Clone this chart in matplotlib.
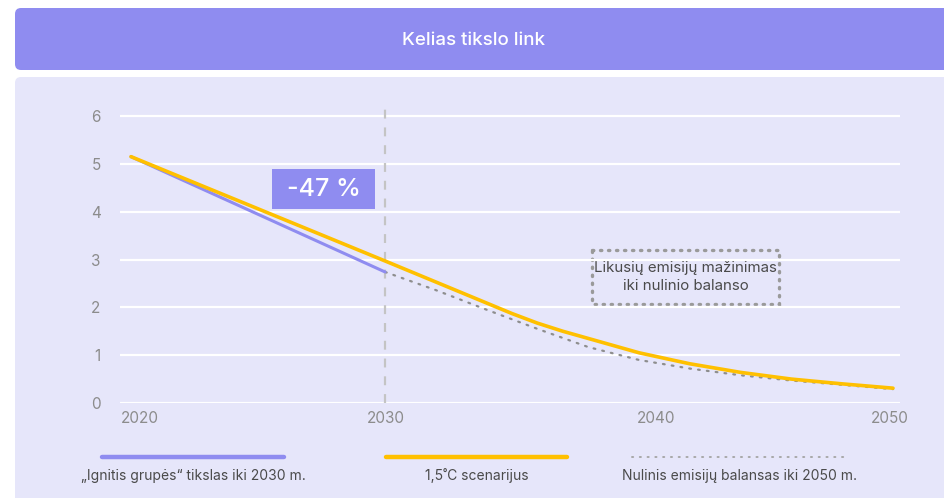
import matplotlib
matplotlib.use("Agg")
import matplotlib.pyplot as plt
from matplotlib.patches import FancyBboxPatch, Rectangle
from matplotlib.transforms import ScaledTranslation

plt.rcParams["font.family"] = ["Inter", "DejaVu Sans"]

# --- data -------------------------------------------------------------
title = "Kelias tikslo link"

target_years = [2020, 2030]
target_values = [5.15, 2.74]

scenario_years = [2020, 2025, 2030, 2032, 2034, 2035, 2036, 2037, 2038, 2040, 2042, 2044, 2046, 2048, 2050]
scenario_values = [5.15, 4.06, 2.97, 2.53, 2.09, 1.87, 1.67, 1.50, 1.35, 1.05, 0.82, 0.64, 0.50, 0.40, 0.31]

netzero_years = [2030, 2032, 2034, 2036, 2038, 2040, 2042, 2044, 2046, 2048, 2050]
netzero_values = [2.74, 2.36, 1.95, 1.55, 1.17, 0.90, 0.72, 0.58, 0.47, 0.38, 0.29]

year_ticks = [2020, 2030, 2040, 2050]
value_ticks = [0, 1, 2, 3, 4, 5, 6]

reduction_label = "-47 %"
note_label = "Likusių emisijų mažinimas\niki nulinio balanso"
legend_labels = ["„Ignitis grupės“ tikslas iki 2030 m.",
                 "1,5˚C scenarijus",
                 "Nulinis emisijų balansas iki 2050 m."]

# --- colours ----------------------------------------------------------
PURPLE = "#8F8CF0"
YELLOW = "#FFC000"
PANEL = "#E6E6FA"
GRID = "#FFFFFF"
TICK = "#8C8C8C"
TEXT = "#4A4A4A"
DOTS = "#8E8E8E"

W, H = 944, 498
fig = plt.figure(figsize=(W / 100, H / 100), dpi=100)
fig.patch.set_facecolor("white")

# background layer in pixel coordinates
bg = fig.add_axes([0, 0, 1, 1])
bg.set_xlim(0, W)
bg.set_ylim(H, 0)
bg.axis("off")
bg.add_patch(FancyBboxPatch((15, 8), W + 20, 62, boxstyle="round,pad=0,rounding_size=6",
                            fc=PURPLE, ec="none"))
bg.add_patch(FancyBboxPatch((15, 77), W + 20, H, boxstyle="round,pad=0,rounding_size=6",
                            fc=PANEL, ec="none"))
bg.text(473, 40, title, ha="center", va="center", color="white",
        fontsize=13.5, fontweight="medium")

# --- main plot --------------------------------------------------------
px_per_year = 25.4
x0_px, x1_px = 120, 900
y0_px, y1_px = 403, 108
ax = fig.add_axes([x0_px / W, 1 - y0_px / H, (x1_px - x0_px) / W, (y0_px - y1_px) / H])
ax.set_facecolor("none")
ax.set_xlim(2020 - (131 - x0_px) / px_per_year, 2050 + (x1_px - 893) / px_per_year)
ax.set_ylim(0, 6 * (y0_px - y1_px) / (403 - 116))
for s in ax.spines.values():
    s.set_visible(False)

for v in value_ticks:
    ax.axhline(v, color=GRID, lw=1.6, zorder=1)
ax.axvline(2030, color="#C4C4C4", lw=1.6, ls=(0, (4, 4)), zorder=1.5)

ax.plot(netzero_years, netzero_values, color=DOTS, lw=1.6, ls=(0, (0.8, 3.2)),
        dash_capstyle="round", zorder=2)
ax.plot(scenario_years, scenario_values, color=YELLOW, lw=2.6, zorder=3,
        solid_capstyle="round", solid_joinstyle="round")
ax.plot(target_years, target_values, color=PURPLE, lw=2.2, zorder=2.5,
        solid_capstyle="round")

ax.set_yticks(value_ticks)
ax.set_yticklabels([str(v) for v in value_ticks])
ax.set_xticks(year_ticks)
ax.set_xticklabels([str(y) for y in year_ticks])
ax.tick_params(length=0, colors=TICK, labelsize=11)
ax.tick_params(axis="y", pad=14)
ax.tick_params(axis="x", pad=6)
label_shift = {2020: 9, 2030: 1, 2040: 17, 2050: -3}
for lbl, yr in zip(ax.get_xticklabels(), year_ticks):
    lbl.set_transform(lbl.get_transform() + ScaledTranslation(label_shift[yr] / 100, 0, fig.dpi_scale_trans))

# reduction badge
bg.add_patch(Rectangle((272, 169), 103, 40, fc=PURPLE, ec="none", zorder=5))
bg.text(323.5, 189.5, reduction_label, ha="center", va="center", color="white",
        fontsize=18, fontweight="medium", zorder=6)

# remaining-reduction note
bg.add_patch(Rectangle((592, 250), 187, 54, fc="none", ec="#9A9A9A", lw=2.4,
                       ls=(0, (0.4, 2.0)), capstyle="round", zorder=5))
bg.text(685.5, 277, note_label, ha="center", va="center", color=TEXT,
        fontsize=10.8, linespacing=1.3, zorder=6)

# legend row
legend_styles = [
    dict(color=PURPLE, lw=3.2, solid_capstyle="round"),
    dict(color=YELLOW, lw=3.2, solid_capstyle="round"),
    dict(color="#A8A8A8", lw=1.4, ls=(0, (0.6, 3.4)), dash_capstyle="round"),
]
legend_spans = [(102, 284), (386, 567), (632, 848)]
for (a, b), style, text in zip(legend_spans, legend_styles, legend_labels):
    bg.plot([a, b], [457, 457], **style)
    bg.text((a + b) / 2, 476, text, ha="center", va="center", color=TEXT, fontsize=10)

fig.savefig("out.png", dpi=100)
